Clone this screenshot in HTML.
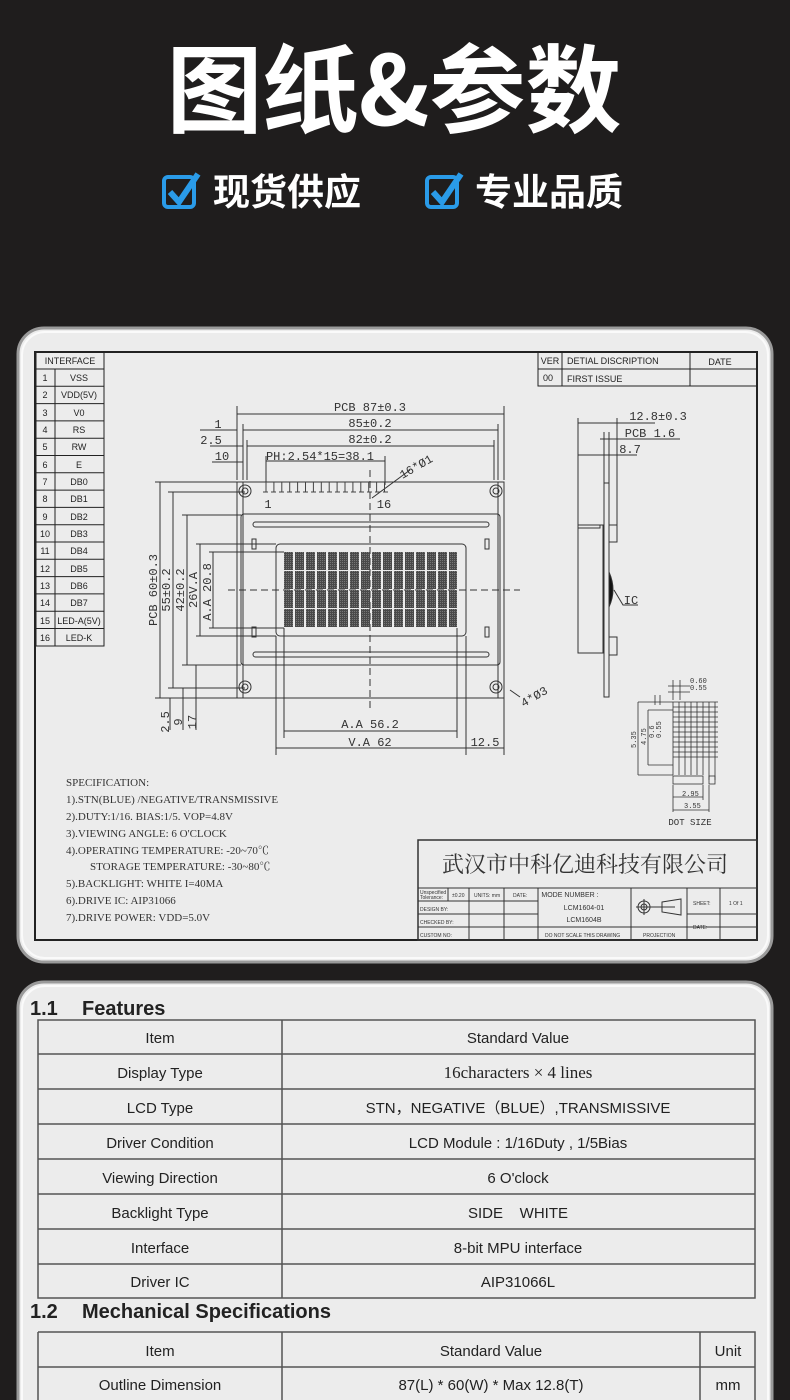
<!DOCTYPE html>
<html><head><meta charset="utf-8"><style>
html,body{margin:0;padding:0;background:#1f1d1d;}
body{width:790px;height:1400px;overflow:hidden;position:relative;font-family:"Liberation Sans","Noto Sans CJK SC",sans-serif;}
svg{position:absolute;left:0;top:0;}
</style></head><body>
<svg width="790" height="1400" viewBox="0 0 790 1400" xmlns="http://www.w3.org/2000/svg" font-family="Liberation Sans, Noto Sans CJK SC, sans-serif">
<rect width="790" height="1400" fill="#1f1d1d"/>
<!-- header -->
<text x="394" y="125" text-anchor="middle" font-size="96" font-weight="bold" fill="#fff" font-family="Noto Sans CJK SC, sans-serif">图纸&amp;参数</text>
<g>
<rect x="164" y="177" width="30" height="30" rx="4" fill="none" stroke="#2a9be8" stroke-width="4"/>
<path d="M170 192 L179 202 L198 174" fill="none" stroke="#2a9be8" stroke-width="6"/>
<text x="213" y="205" font-size="37" font-weight="bold" fill="#fff" font-family="Noto Sans CJK SC, sans-serif">现货供应</text>
<rect x="427" y="177" width="30" height="30" rx="4" fill="none" stroke="#2a9be8" stroke-width="4"/>
<path d="M433 192 L442 202 L461 174" fill="none" stroke="#2a9be8" stroke-width="6"/>
<text x="475" y="205" font-size="37" font-weight="bold" fill="#fff" font-family="Noto Sans CJK SC, sans-serif">专业品质</text>
</g>
<!-- card 1 -->
<rect x="18" y="328" width="754" height="634" rx="26" fill="#ececec" stroke="#9a9a9a" stroke-width="3"/>
<rect x="22" y="332" width="746" height="626" rx="23" fill="none" stroke="#fafafa" stroke-width="2"/>
<g stroke="#222" fill="none">
<rect x="35" y="352" width="722" height="588" stroke-width="2"/>
<rect x="36" y="352" width="68" height="294" stroke-width="1"/>
<line x1="55" y1="369" x2="55" y2="646"/>
<path d="M36 369H104M36 386.3H104M36 403.6H104M36 420.9H104M36 438.2H104M36 455.5H104M36 472.8H104M36 490.1H104M36 507.4H104M36 524.7H104M36 542H104M36 559.3H104M36 576.6H104M36 593.9H104M36 611.2H104M36 628.5H104"/>
<rect x="538" y="352" width="219" height="34"/>
<path d="M538 369H757M562 352V386M690 352V386"/>
</g>
<g font-size="9" fill="#222" text-anchor="middle">
<text x="70" y="364">INTERFACE</text>
<text x="45" y="381">1</text><text x="79" y="381">VSS</text>
<text x="45" y="398">2</text><text x="79" y="398">VDD(5V)</text>
<text x="45" y="416">3</text><text x="79" y="416">V0</text>
<text x="45" y="433">4</text><text x="79" y="433">RS</text>
<text x="45" y="450">5</text><text x="79" y="450">RW</text>
<text x="45" y="468">6</text><text x="79" y="468">E</text>
<text x="45" y="485">7</text><text x="79" y="485">DB0</text>
<text x="45" y="502">8</text><text x="79" y="502">DB1</text>
<text x="45" y="520">9</text><text x="79" y="520">DB2</text>
<text x="45" y="537">10</text><text x="79" y="537">DB3</text>
<text x="45" y="554">11</text><text x="79" y="554">DB4</text>
<text x="45" y="572">12</text><text x="79" y="572">DB5</text>
<text x="45" y="589">13</text><text x="79" y="589">DB6</text>
<text x="45" y="606">14</text><text x="79" y="606">DB7</text>
<text x="45" y="624">15</text><text x="79" y="624">LED-A(5V)</text>
<text x="45" y="641">16</text><text x="79" y="641">LED-K</text>
<text x="550" y="364">VER</text><text x="548" y="381">00</text>
<text x="720" y="365">DATE</text>
</g>
<g font-size="9" fill="#222"><text x="567" y="364">DETIAL DISCRIPTION</text><text x="567" y="382">FIRST ISSUE</text></g>

<g stroke="#333" fill="none" stroke-width="1">
<rect x="237" y="482" width="267" height="216"/>
<path d="M243 482V698M498 482V698"/>
<rect x="241" y="514" width="259" height="151" rx="3"/>
<rect x="253" y="522" width="236" height="5" rx="2.5"/>
<rect x="253" y="652" width="236" height="5" rx="2.5"/>
<rect x="276" y="544" width="190" height="92" rx="4"/>
<circle cx="245" cy="491" r="6"/><circle cx="245" cy="491" r="3"/>
<circle cx="496" cy="491" r="6"/><circle cx="496" cy="491" r="3"/>
<circle cx="245" cy="687" r="6"/><circle cx="245" cy="687" r="3"/>
<circle cx="496" cy="687" r="6"/><circle cx="496" cy="687" r="3"/>
<rect x="252" y="539" width="4" height="10"/><rect x="485" y="539" width="4" height="10"/>
<rect x="252" y="627" width="4" height="10"/><rect x="485" y="627" width="4" height="10"/>
<path d="M370 470V710M228 590H520" stroke-dasharray="7 4"/>
<path d="M237 406V480M504 406V480M243 424V480M498 424V480M247 440V480M494 440V480M266 456V485M385 456V485"/>
<path d="M237 414H504M243 430H498M247 446H494M266 461H385"/>
<path d="M200 430H237M210 446H243M212 462H243"/>
<path d="M155 482H237M168 492H245M182 515H241M196 544H276M209 552H284M209 628H284M196 636H276M182 665H241M168 688H245M155 698H237"/>
<path d="M160 482V698M173 492V688M187 515V665M200 544V636M213 552V628"/>
<path d="M170 698V730M183 688V730M196 665V730" />
<path d="M284 628V738M457 628V738M276 636V755M466 636V755M504 698V755"/>
<path d="M284 731H457M276 748H466M466 748H504"/>
<path d="M372 498L410 470M510 690L520 697"/>
</g>
<g stroke="#444" fill="none">
<path d="M266 482 v10 M273.9 482 v10 M281.8 482 v10 M289.7 482 v10 M297.6 482 v10 M305.5 482 v10 M313.4 482 v10 M321.3 482 v10 M329.2 482 v10 M337.1 482 v10 M345 482 v10 M352.9 482 v10 M360.8 482 v10 M368.7 482 v10 M376.6 482 v10 M384.5 482 v10"/>
<path d="M263 492 h125" stroke-dasharray="5 3"/>
</g>
<defs><pattern id="dm" width="2" height="2" patternUnits="userSpaceOnUse"><rect width="2" height="2" fill="#4a4a4a"/><rect width="1" height="1" fill="#777"/></pattern></defs>
<g fill="url(#dm)">
<g id="dr">
<rect x="284" y="552" width="9" height="18"/><rect x="295" y="552" width="9" height="18"/><rect x="306" y="552" width="9" height="18"/><rect x="317" y="552" width="9" height="18"/><rect x="328" y="552" width="9" height="18"/><rect x="339" y="552" width="9" height="18"/><rect x="350" y="552" width="9" height="18"/><rect x="361" y="552" width="9" height="18"/><rect x="372" y="552" width="9" height="18"/><rect x="383" y="552" width="9" height="18"/><rect x="394" y="552" width="9" height="18"/><rect x="405" y="552" width="9" height="18"/><rect x="416" y="552" width="9" height="18"/><rect x="427" y="552" width="9" height="18"/><rect x="438" y="552" width="9" height="18"/><rect x="449" y="552" width="8" height="18"/>
</g>
<use href="#dr" y="19"/><use href="#dr" y="38"/><use href="#dr" y="57"/>
</g>
<g font-family="Liberation Mono, monospace" font-size="12" fill="#333" text-anchor="middle">
<text x="370" y="411">PCB 87±0.3</text>
<text x="370" y="427">85±0.2</text>
<text x="370" y="443">82±0.2</text>
<text x="320" y="460">PH:2.54*15=38.1</text>
<text x="218" y="428">1</text><text x="211" y="444">2.5</text><text x="222" y="460">10</text>
<text x="268" y="508">1</text><text x="384" y="508">16</text>
<text x="418" y="470" transform="rotate(-30 418 470)">16*Ø1</text>
<text x="536" y="700" transform="rotate(-30 536 700)">4*Ø3</text>
<text x="370" y="728">A.A 56.2</text>
<text x="370" y="746">V.A 62</text>
<text x="485" y="746">12.5</text>
<text transform="translate(157 590) rotate(-90)">PCB 60±0.3</text>
<text transform="translate(170 590) rotate(-90)">55±0.2</text>
<text transform="translate(184 590) rotate(-90)">42±0.2</text>
<text transform="translate(197 590) rotate(-90)">26V.A</text>
<text transform="translate(211 592) rotate(-90)">A.A 20.8</text>
<text transform="translate(169 722) rotate(-90)">2.5</text>
<text transform="translate(182 722) rotate(-90)">9</text>
<text transform="translate(196 722) rotate(-90)">17</text>
<text x="658" y="420">12.8±0.3</text>
<text x="650" y="437">PCB 1.6</text>
<text x="630" y="453">8.7</text>
<text x="631" y="604">IC</text>
<text x="690" y="825" font-size="9">DOT SIZE</text>
</g>
<g stroke="#333" fill="none">
<path d="M578 418V525M617 418V525M604 432V483M609 432V483"/>
<path d="M578 423H655M600 439H680M578 455H637"/>
<rect x="604" y="483" width="5" height="214"/>
<rect x="578" y="525" width="25" height="128"/>
<rect x="578" y="525" width="22" height="3"/>
<rect x="609" y="525" width="8" height="17"/><rect x="609" y="637" width="8" height="18"/>
<path d="M609 572 Q617 590 609 607Z" fill="#111"/>
<path d="M614 590L623 605H638"/>
<g stroke-width="0.8">
<path d="M673 702H718 M673 707H718 M673 712H718 M673 717H718 M673 722H718 M673 727H718 M673 732H718 M673 737H718 M673 742H718 M673 747H718 M673 752H718 M673 757H718"/>
<path d="M673 702V775M679 702V775M685 702V775M691 702V775M697 702V775M703 702V775M709 702V780M715 702V780"/>
<rect x="673" y="776" width="30" height="8"/><rect x="709" y="776" width="6" height="8"/>
<path d="M638 702H673M648 710H673M638 775H673M648 765H673M638 702V775M648 710V765M655 695V705M660 695V705M673 680V700M680 680V700M668 686H690M668 692H690M673 797H703M673 810H709M673 785V812M703 785V800M709 785V812"/>
</g>
</g>
<g font-family="Liberation Mono, monospace" font-size="7" fill="#333">
<text x="690" y="683">0.60</text><text x="690" y="690">0.55</text>
<text transform="translate(636 748) rotate(-90)">5.35</text>
<text transform="translate(646 745) rotate(-90)">4.75</text>
<text transform="translate(654 738) rotate(-90)">0.6</text>
<text transform="translate(661 738) rotate(-90)">0.55</text>
<text x="682" y="796">2.95</text><text x="684" y="808">3.55</text>
</g>
<g font-family="Liberation Serif, Noto Serif CJK SC, serif" font-size="11" fill="#333">
<text x="66" y="786">SPECIFICATION:</text>
<text x="66" y="803">1).STN(BLUE) /NEGATIVE/TRANSMISSIVE</text>
<text x="66" y="820">2).DUTY:1/16. BIAS:1/5. VOP=4.8V</text>
<text x="66" y="837">3).VIEWING ANGLE: 6 O'CLOCK</text>
<text x="66" y="854">4).OPERATING TEMPERATURE: -20~70℃</text>
<text x="90" y="870">STORAGE TEMPERATURE: -30~80℃</text>
<text x="66" y="887">5).BACKLIGHT: WHITE  I=40MA</text>
<text x="66" y="904">6).DRIVE IC: AIP31066</text>
<text x="66" y="921">7).DRIVE POWER: VDD=5.0V</text>
</g>
<g stroke="#333" fill="none">
<rect x="418" y="840" width="339" height="100" stroke-width="1.5"/>
<path d="M418 888H757M418 901H538M418 914H538M418 927H757M448 888V901M469 888V940M504 888V940M538 888V940M631 888V940M687 888V940M720 888V940M687 914H757"/>
<circle cx="644" cy="907" r="6"/><circle cx="644" cy="907" r="3"/><path d="M636 907H675M644 899V915M662 902L681 899V915L662 912Z"/>
</g>
<text x="585" y="872" text-anchor="middle" font-size="22" fill="#333" font-family="Noto Serif CJK SC, serif">武汉市中科亿迪科技有限公司</text>
<g font-size="5" fill="#333">
<text x="420" y="894">Unspecified</text><text x="420" y="899">Tolerance:</text><text x="452" y="897">±0.20</text>
<text x="474" y="897">UNITS: mm</text><text x="513" y="897">DATE:</text>
<text x="420" y="911">DESIGN   BY:</text><text x="420" y="924">CHECKED  BY:</text><text x="420" y="937">CUSTOM NO:</text>
<text x="545" y="937">DO NOT SCALE THIS DRAWING</text><text x="643" y="937">PROJECTION</text>
<text x="693" y="905">SHEET:</text><text x="729" y="905">1 Of 1</text><text x="693" y="929">DATE:</text>
</g>
<g font-size="7" fill="#333" text-anchor="middle"><text x="570" y="897">MODE NUMBER :</text><text x="584" y="910">LCM1604-01</text><text x="584" y="922">LCM1604B</text></g>

<rect x="18" y="982" width="754" height="460" rx="26" fill="#ececec" stroke="#9a9a9a" stroke-width="3"/>
<rect x="22" y="986" width="746" height="450" rx="23" fill="none" stroke="#fafafa" stroke-width="2"/>
<text x="30" y="1015" font-size="20" font-weight="bold" fill="#222">1.1</text>
<text x="82" y="1015" font-size="20" font-weight="bold" fill="#222">Features</text>
<g stroke="#555" fill="none" stroke-width="1.5">
<rect x="38" y="1020" width="717" height="278"/>
<path d="M282 1020V1298M38 1054H755M38 1089H755M38 1124H755M38 1159H755M38 1194H755M38 1229H755M38 1264H755"/>
<path d="M38 1332H755V1410M38 1332V1410M38 1367H755M282 1332V1410M700 1332V1410"/>
</g>
<g font-size="15" fill="#222" text-anchor="middle">
<text x="160" y="1043">Item</text><text x="518" y="1043">Standard Value</text>
<text x="160" y="1078">Display Type</text><text x="518" y="1078" font-family="Liberation Serif, serif" font-size="17">16characters × 4 lines</text>
<text x="160" y="1113">LCD Type</text><text x="518" y="1113">STN，NEGATIVE（BLUE）,TRANSMISSIVE</text>
<text x="160" y="1148">Driver Condition</text><text x="518" y="1148">LCD Module : 1/16Duty , 1/5Bias</text>
<text x="160" y="1183">Viewing Direction</text><text x="518" y="1183">6 O'clock</text>
<text x="160" y="1218">Backlight Type</text><text x="518" y="1218" xml:space="preserve" style="white-space:pre">SIDE    WHITE</text>
<text x="160" y="1253">Interface</text><text x="518" y="1253">8-bit MPU interface</text>
<text x="160" y="1287">Driver IC</text><text x="518" y="1287">AIP31066L</text>
<text x="160" y="1356">Item</text><text x="491" y="1356">Standard Value</text><text x="728" y="1356">Unit</text>
<text x="160" y="1390">Outline Dimension</text><text x="491" y="1390">87(L) * 60(W) * Max 12.8(T)</text><text x="728" y="1390">mm</text>
</g>
<text x="30" y="1318" font-size="20" font-weight="bold" fill="#222">1.2</text>
<text x="82" y="1318" font-size="20" font-weight="bold" fill="#222">Mechanical Specifications</text>
</svg>
</body></html>
